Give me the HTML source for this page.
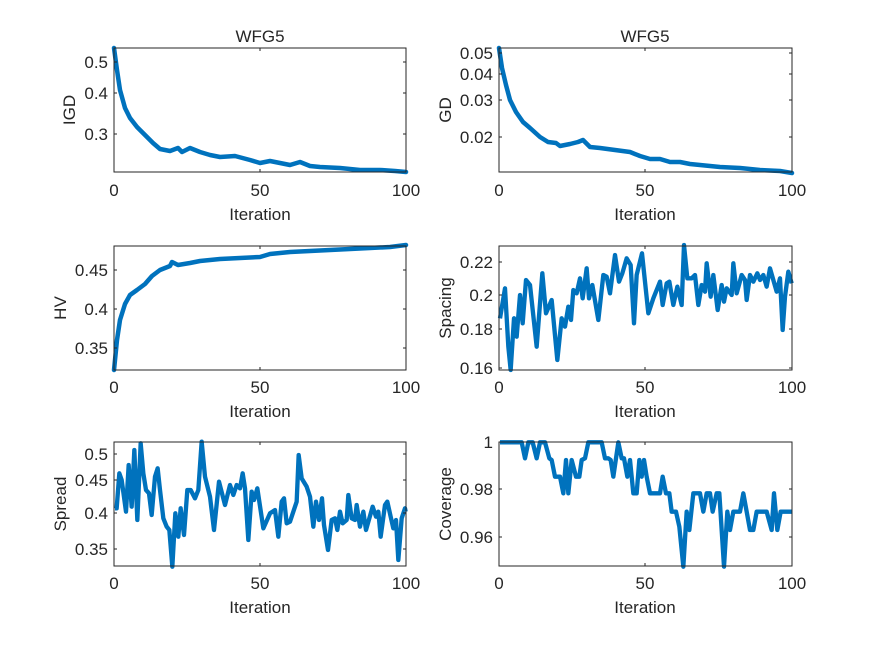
<!DOCTYPE html>
<html><head><meta charset="utf-8"><style>body{margin:0;background:#fff}svg{display:block}text{font-family:"Liberation Sans",sans-serif;fill:#262626}</style></head>
<body>
<svg width="875" height="656" viewBox="0 0 875 656" xmlns="http://www.w3.org/2000/svg">
<rect width="875" height="656" fill="#fff"/>
<g fill="none" stroke="#0072BD" stroke-width="4.5" stroke-linejoin="round" stroke-linecap="round">
<polyline points="114,48 117,70 120,90 125,108 130,118 137,127 145,135 153,143 160,149 170,151 178,148 182,152 190,148 200,152 210,155 220,157 235,156 250,160 260,163 270,161 280,163 290,165 300,162 310,166 320,167 340,168 360,170 380,170 395,171 406,172"/>
<polyline points="499,48 502,68 506,85 510,100 516,112 523,122 530,128 540,137 548,142 556,143 560,146 570,144 578,142 583,140 590,147 600,148 615,150 630,152 640,156 650,159 660,159 670,162 680,162 690,164 700,165 720,167 740,168 760,170 780,171 792,173"/>
<polyline points="114,370 117,340 120,320 125,304 130,295 137,290 145,284 152,276 160,270 170,266 172,262 178,265 190,263 200,261 220,259 240,258 260,257 270,254 290,252 310,251 330,250 350,249 370,248 390,247 406,245"/>
</g>
<g transform="translate(440,230) scale(0.33333)" fill="none" stroke="#0072BD" stroke-width="13" stroke-linejoin="round">
<polyline points="180,265 195,175 205,350 212,420 222,265 230,320 240,195 248,280 258,150 270,165 290,350 307,130 318,250 335,210 352,390 365,265 375,290 385,230 393,270 400,180 410,190 420,145 428,205 440,115 447,205 457,165 475,270 490,135 500,140 510,190 525,75 537,155 547,130 560,85 572,105 582,280 590,135 606,70 625,250 640,205 660,155 668,225 680,160 688,155 700,225 712,170 725,225 732,45 742,145 755,145 765,135 775,225 785,165 795,185 800,100 812,200 820,135 833,240 845,165 852,215 860,175 875,195 880,100 890,190 905,135 915,150 920,210 930,135 940,155 952,130 960,150 970,135 980,170 990,115 1000,150 1010,185 1020,145 1028,300 1035,200 1045,125 1055,160"/>
</g>
<g transform="translate(100,430) scale(0.33333)" fill="none" stroke="#0072BD" stroke-width="13" stroke-linejoin="round">
<polyline points="45,235 50,235 58,130 65,150 78,245 86,105 95,230 103,60 112,270 122,40 130,130 138,180 147,190 155,255 165,140 173,115 180,180 190,265 200,290 208,300 217,410 226,250 235,320 242,235 252,315 262,180 272,180 285,205 295,180 305,35 315,140 330,200 342,300 357,155 375,225 390,165 400,195 410,165 420,175 428,130 435,175 445,330 455,185 462,210 472,175 490,295 510,250 525,240 535,320 545,215 552,205 560,280 570,275 590,215 596,75 605,145 620,170 630,200 640,290 648,215 657,270 666,205 672,285 684,360 695,270 705,265 712,300 720,245 728,280 740,270 745,195 755,265 765,270 770,225 780,290 790,245 798,300 808,265 818,230 828,260 835,245 842,320 855,225 862,215 872,260 880,295 888,270 895,390 905,265 915,235 917,245"/>
</g>
<g transform="translate(490,430) scale(0.33333)" fill="none" stroke="#0072BD" stroke-width="13" stroke-linejoin="round">
<polyline points="30,37 95,37 105,85 115,37 128,37 140,85 150,37 165,37 178,85 185,90 195,140 210,140 220,190 228,90 235,190 245,90 258,140 268,140 275,90 285,85 295,37 335,37 345,85 355,85 362,90 370,140 385,37 395,85 402,85 412,140 420,90 430,190 440,190 448,90 455,140 462,90 470,140 480,190 510,190 518,140 528,190 538,190 545,245 558,245 568,290 580,410 590,245 598,300 610,190 630,190 640,245 650,190 660,190 668,245 680,190 688,190 702,410 712,245 720,300 730,245 750,245 760,190 770,245 780,300 790,300 800,245 830,245 845,300 852,190 862,300 872,245 905,245"/>
</g>
<g fill="none" stroke="#262626" stroke-width="1">
<rect x="114" y="48" width="292" height="124"/>
<rect x="499" y="48" width="293" height="124"/>
<rect x="114" y="246" width="292" height="124"/>
<rect x="499" y="246" width="293" height="124"/>
<rect x="114" y="442" width="292" height="124"/>
<rect x="499" y="442" width="293" height="124"/>
<path d="M260,172v-3M260,48v3M645,172v-3M645,48v3M260,370v-3M260,246v3M645,370v-3M645,246v3M260,566v-3M260,442v3M645,566v-3M645,442v3"/>
<path d="M114,62h3M114,93h3M114,134h3M406,62h-3M406,93h-3M406,134h-3"/>
<path d="M499,53h3M499,74h3M499,100h3M499,137h3M792,53h-3M792,74h-3M792,100h-3M792,137h-3"/>
<path d="M114,270h3M114,309h3M114,348h3M406,270h-3M406,309h-3M406,348h-3"/>
<path d="M499,262h3M499,295h3M499,329h3M499,368h3M792,262h-3M792,295h-3M792,329h-3M792,368h-3"/>
<path d="M114,454h3M114,480h3M114,513h3M114,549h3M406,454h-3M406,480h-3M406,513h-3M406,549h-3"/>
<path d="M499,442h3M499,489h3M499,537h3M792,489h-3M792,537h-3"/>
</g>
<g font-size="17">
<text x="260" y="42" text-anchor="middle">WFG5</text>
<text x="645" y="42" text-anchor="middle">WFG5</text>
<g text-anchor="middle">
<text x="114" y="196">0</text><text x="260" y="196">50</text><text x="406" y="196">100</text>
<text x="499" y="196">0</text><text x="645" y="196">50</text><text x="792" y="196">100</text>
<text x="114" y="393">0</text><text x="260" y="393">50</text><text x="406" y="393">100</text>
<text x="499" y="393">0</text><text x="645" y="393">50</text><text x="792" y="393">100</text>
<text x="114" y="589">0</text><text x="260" y="589">50</text><text x="406" y="589">100</text>
<text x="499" y="589">0</text><text x="645" y="589">50</text><text x="792" y="589">100</text>
<text x="260" y="220">Iteration</text><text x="645" y="220">Iteration</text>
<text x="260" y="417">Iteration</text><text x="645" y="417">Iteration</text>
<text x="260" y="613">Iteration</text><text x="645" y="613">Iteration</text>
</g>
<g text-anchor="end">
<text x="108" y="68">0.5</text><text x="108" y="99">0.4</text><text x="108" y="140">0.3</text>
<text x="493" y="59">0.05</text><text x="493" y="80">0.04</text><text x="493" y="106">0.03</text><text x="493" y="143">0.02</text>
<text x="108" y="276">0.45</text><text x="108" y="315">0.4</text><text x="108" y="354">0.35</text>
<text x="493" y="268">0.22</text><text x="493" y="301">0.2</text><text x="493" y="335">0.18</text><text x="493" y="374">0.16</text>
<text x="108" y="460">0.5</text><text x="108" y="486">0.45</text><text x="108" y="519">0.4</text><text x="108" y="555">0.35</text>
<text x="493" y="448">1</text><text x="493" y="495">0.98</text><text x="493" y="543">0.96</text>
</g>
<g text-anchor="middle">
<text transform="translate(75,110) rotate(-90)">IGD</text>
<text transform="translate(451,110) rotate(-90)">GD</text>
<text transform="translate(66,308) rotate(-90)">HV</text>
<text transform="translate(451,308) rotate(-90)">Spacing</text>
<text transform="translate(66,504) rotate(-90)">Spread</text>
<text transform="translate(451,504) rotate(-90)">Coverage</text>
</g>
</g>
</svg>
</body></html>
